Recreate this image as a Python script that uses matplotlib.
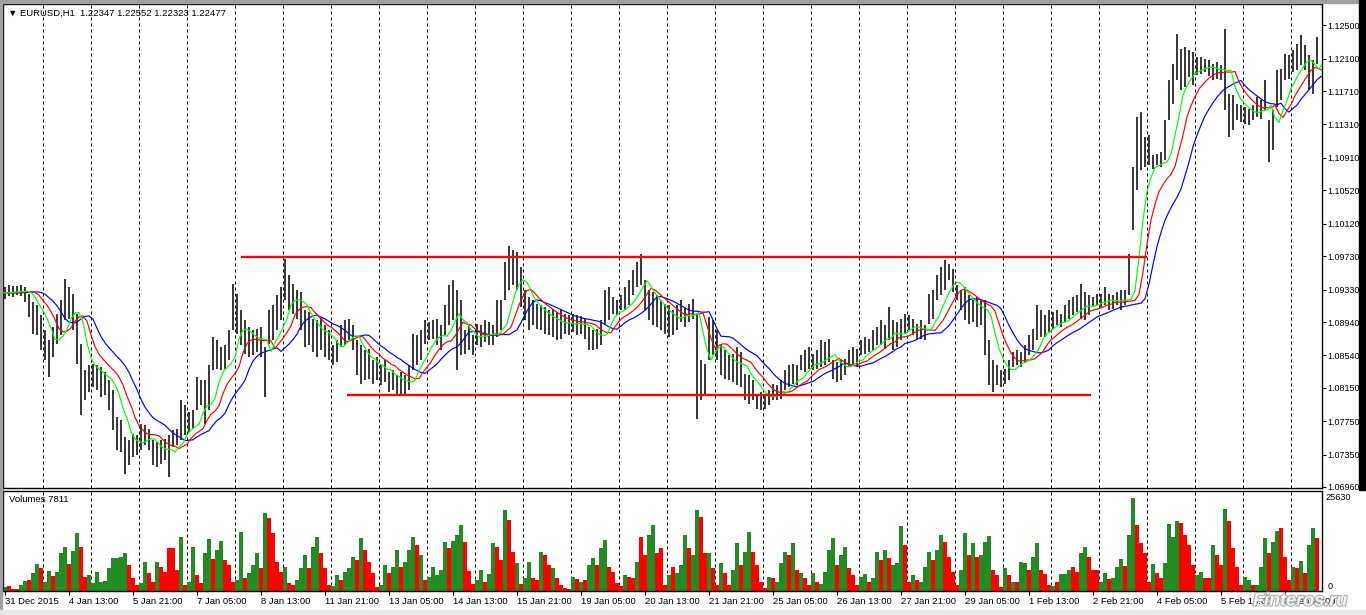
"""
EURUSD H1 chart with Alligator lines, support/resistance levels and volumes,
redrawn in the look of a MetaTrader 4 window.
"""

import matplotlib
matplotlib.use("Agg")
import matplotlib.pyplot as plt
import matplotlib.patheffects as pe
import matplotlib.transforms as mtransforms
import numpy as np
import pandas as pd

W, H = 1366, 615
FONT = ["Liberation Sans", "DejaVu Sans"]

HEADER = "\u25BC EURUSD,H1  1.22347 1.22552 1.22323 1.22477"
VOLUME_HEADER = "Volumes 7811"
VOLUME_MAX = 25630

# one entry per bar (left to right)
HIGH = [
    1.0936, 1.0938, 1.0937, 1.0937, 1.0938, 1.0936, 1.0928, 1.0918, 1.0914, 1.0902,
    1.0884, 1.0872, 1.0888, 1.0904, 1.0920, 1.0946, 1.0936, 1.0928, 1.0904, 1.0868,
    1.0836, 1.0842, 1.0844, 1.0842, 1.0840, 1.0834, 1.0824, 1.0812, 1.0780, 1.0776,
    1.0756, 1.0752, 1.0760, 1.0758, 1.0772, 1.0770, 1.0766, 1.0752, 1.0750, 1.0752,
    1.0754, 1.0758, 1.0764, 1.0766, 1.0800, 1.0794, 1.0786, 1.0788, 1.0828, 1.0824,
    1.0824, 1.0842, 1.0876, 1.0872, 1.0864, 1.0866, 1.0884, 1.0940, 1.0928, 1.0908,
    1.0896, 1.0888, 1.0884, 1.0886, 1.0888, 1.0864, 1.0908, 1.0914, 1.0926, 1.0936,
    1.0970, 1.0950, 1.0940, 1.0932, 1.0930, 1.0908, 1.0906, 1.0898, 1.0896, 1.0900,
    1.0890, 1.0884, 1.0866, 1.0872, 1.0890, 1.0896, 1.0898, 1.0890, 1.0872, 1.0866,
    1.0860, 1.0862, 1.0848, 1.0852, 1.0842, 1.0848, 1.0834, 1.0836, 1.0830, 1.0834,
    1.0830, 1.0842, 1.0880, 1.0878, 1.0884, 1.0896, 1.0894, 1.0896, 1.0898, 1.0890,
    1.0914, 1.0938, 1.0944, 1.0932, 1.0920, 1.0884, 1.0890, 1.0878, 1.0892, 1.0890,
    1.0896, 1.0894, 1.0890, 1.0920, 1.0920, 1.0966, 1.0985, 1.0980, 1.0978, 1.0960,
    1.0932, 1.0924, 1.0920, 1.0916, 1.0914, 1.0912, 1.0908, 1.0910, 1.0906, 1.0908,
    1.0904, 1.0902, 1.0904, 1.0902, 1.0901, 1.0898, 1.0888, 1.0884, 1.0886, 1.0896,
    1.0932, 1.0936, 1.0924, 1.0920, 1.0926, 1.0936, 1.0944, 1.0956, 1.0966, 1.0976,
    1.0944, 1.0932, 1.0930, 1.0926, 1.0920, 1.0916, 1.0914, 1.0908, 1.0914, 1.0920,
    1.0912, 1.0916, 1.0922, 1.0902, 1.0848, 1.0844, 1.0900, 1.0896, 1.0884, 1.0866,
    1.0860, 1.0854, 1.0856, 1.0864, 1.0858, 1.0832, 1.0830, 1.0824, 1.0808, 1.0810,
    1.0808, 1.0812, 1.0820, 1.0818, 1.0824, 1.0836, 1.0842, 1.0844, 1.0842, 1.0854,
    1.0860, 1.0864, 1.0856, 1.0860, 1.0872, 1.0870, 1.0874, 1.0848, 1.0846, 1.0848,
    1.0850, 1.0860, 1.0864, 1.0862, 1.0872, 1.0876, 1.0874, 1.0884, 1.0888, 1.0896,
    1.0890, 1.0912, 1.0896, 1.0894, 1.0898, 1.0904, 1.0902, 1.0898, 1.0892, 1.0896,
    1.0890, 1.0928, 1.0932, 1.0950, 1.0960, 1.0968, 1.0964, 1.0958, 1.0938, 1.0932,
    1.0936, 1.0926, 1.0920, 1.0924, 1.0920, 1.0920, 1.0872, 1.0848, 1.0842, 1.0836,
    1.0838, 1.0848, 1.0858, 1.0860, 1.0858, 1.0866, 1.0878, 1.0886, 1.0914, 1.0908,
    1.0902, 1.0908, 1.0906, 1.0908, 1.0904, 1.0914, 1.0920, 1.0924, 1.0926, 1.0940,
    1.0930, 1.0926, 1.0924, 1.0928, 1.0927, 1.0936, 1.0928, 1.0926, 1.0930, 1.0932,
    1.0932, 1.0976, 1.1080, 1.1140, 1.1146, 1.1116, 1.1118, 1.1094, 1.1096, 1.1098,
    1.1136, 1.1184, 1.1204, 1.1240, 1.1222, 1.1224, 1.1220, 1.1218, 1.1212, 1.1212,
    1.1210, 1.1208, 1.1204, 1.1206, 1.1202, 1.1246, 1.1168, 1.1166, 1.1156, 1.1154,
    1.1152, 1.1150, 1.1154, 1.1164, 1.1160, 1.1184, 1.1136, 1.1148, 1.1196, 1.1198,
    1.1216, 1.1214, 1.1220, 1.1228, 1.1238, 1.1226, 1.1214, 1.1208, 1.1236,
]

LOW = [
    1.0922, 1.0925, 1.0924, 1.0926, 1.0925, 1.0918, 1.0900, 1.0880, 1.0878, 1.0860,
    1.0848, 1.0828, 1.0852, 1.0868, 1.0878, 1.0896, 1.0898, 1.0884, 1.0844, 1.0782,
    1.0800, 1.0810, 1.0816, 1.0812, 1.0804, 1.0806, 1.0788, 1.0764, 1.0740, 1.0738,
    1.0712, 1.0722, 1.0732, 1.0734, 1.0740, 1.0746, 1.0740, 1.0722, 1.0720, 1.0724,
    1.0728, 1.0708, 1.0744, 1.0746, 1.0752, 1.0758, 1.0762, 1.0766, 1.0788, 1.0794,
    1.0772, 1.0788, 1.0836, 1.0838, 1.0836, 1.0838, 1.0848, 1.0884, 1.0880, 1.0866,
    1.0856, 1.0852, 1.0854, 1.0858, 1.0852, 1.0804, 1.0868, 1.0872, 1.0884, 1.0896,
    1.0920, 1.0908, 1.0904, 1.0898, 1.0884, 1.0864, 1.0866, 1.0858, 1.0852, 1.0860,
    1.0852, 1.0848, 1.0842, 1.0846, 1.0864, 1.0866, 1.0872, 1.0860, 1.0830, 1.0820,
    1.0824, 1.0826, 1.0820, 1.0824, 1.0818, 1.0822, 1.0810, 1.0812, 1.0808, 1.0808,
    1.0807, 1.0812, 1.0836, 1.0842, 1.0848, 1.0868, 1.0872, 1.0874, 1.0866, 1.0860,
    1.0878, 1.0890, 1.0896, 1.0836, 1.0854, 1.0856, 1.0860, 1.0854, 1.0866, 1.0864,
    1.0870, 1.0866, 1.0866, 1.0876, 1.0884, 1.0920, 1.0932, 1.0938, 1.0932, 1.0912,
    1.0896, 1.0884, 1.0890, 1.0886, 1.0884, 1.0880, 1.0878, 1.0876, 1.0872, 1.0874,
    1.0880, 1.0878, 1.0882, 1.0878, 1.0880, 1.0874, 1.0860, 1.0860, 1.0862, 1.0866,
    1.0892, 1.0896, 1.0904, 1.0902, 1.0908, 1.0908, 1.0914, 1.0926, 1.0936, 1.0938,
    1.0908, 1.0896, 1.0890, 1.0888, 1.0884, 1.0880, 1.0876, 1.0878, 1.0884, 1.0894,
    1.0888, 1.0894, 1.0898, 1.0778, 1.0800, 1.0808, 1.0848, 1.0854, 1.0848, 1.0830,
    1.0826, 1.0824, 1.0822, 1.0818, 1.0816, 1.0800, 1.0796, 1.0800, 1.0790, 1.0788,
    1.0790, 1.0794, 1.0800, 1.0800, 1.0802, 1.0812, 1.0816, 1.0820, 1.0818, 1.0836,
    1.0834, 1.0838, 1.0836, 1.0838, 1.0840, 1.0842, 1.0846, 1.0826, 1.0822, 1.0824,
    1.0830, 1.0840, 1.0842, 1.0840, 1.0854, 1.0856, 1.0858, 1.0860, 1.0866, 1.0866,
    1.0862, 1.0872, 1.0860, 1.0864, 1.0872, 1.0880, 1.0884, 1.0878, 1.0872, 1.0874,
    1.0872, 1.0892, 1.0898, 1.0920, 1.0926, 1.0932, 1.0944, 1.0930, 1.0920, 1.0908,
    1.0896, 1.0892, 1.0894, 1.0888, 1.0890, 1.0854, 1.0818, 1.0810, 1.0818, 1.0816,
    1.0820, 1.0824, 1.0840, 1.0842, 1.0840, 1.0846, 1.0854, 1.0860, 1.0872, 1.0876,
    1.0876, 1.0882, 1.0886, 1.0890, 1.0888, 1.0894, 1.0898, 1.0902, 1.0906, 1.0898,
    1.0896, 1.0902, 1.0912, 1.0914, 1.0912, 1.0914, 1.0908, 1.0910, 1.0914, 1.0908,
    1.0914, 1.0926, 1.1004, 1.1052, 1.1076, 1.1080, 1.1082, 1.1078, 1.1082, 1.1080,
    1.1088, 1.1136, 1.1156, 1.1184, 1.1172, 1.1176, 1.1188, 1.1178, 1.1190, 1.1192,
    1.1194, 1.1189, 1.1184, 1.1186, 1.1184, 1.1148, 1.1116, 1.1124, 1.1136, 1.1134,
    1.1132, 1.1130, 1.1136, 1.1140, 1.1138, 1.1148, 1.1086, 1.1100, 1.1152, 1.1160,
    1.1184, 1.1186, 1.1194, 1.1196, 1.1202, 1.1196, 1.1172, 1.1168, 1.1204,
]

# volumes in thousands of ticks
VOLUME_K = [
    1.1, 1.4, 0.5, 0.5, 1.6, 2.7, 3.0, 4.9, 7.4, 6.3,
    2.5, 5.5, 4.1, 5.2, 10.4, 12.1, 7.4, 11.0, 15.9, 12.1,
    3.8, 4.4, 2.2, 5.2, 2.5, 2.7, 6.3, 9.0, 9.0, 9.3,
    10.4, 7.1, 3.6, 1.6, 2.2, 7.9, 4.9, 2.5, 7.9, 6.6,
    5.2, 11.8, 11.8, 5.8, 14.8, 1.6, 2.5, 12.1, 4.4, 2.2,
    10.4, 14.2, 8.8, 11.2, 13.7, 8.5, 7.1, 2.5, 3.0, 16.2,
    3.6, 4.9, 7.1, 10.4, 6.3, 21.4, 20.0, 15.9, 7.9, 5.2,
    6.6, 2.2, 1.6, 3.0, 6.3, 9.9, 6.3, 12.1, 14.8, 10.4,
    6.3, 1.6, 1.4, 4.4, 3.0, 5.2, 6.3, 9.3, 8.5, 14.5,
    11.2, 7.9, 4.9, 1.1, 1.6, 7.1, 4.9, 6.6, 11.2, 6.6,
    7.9, 11.2, 14.8, 12.6, 9.9, 3.0, 3.8, 6.6, 4.4, 5.8,
    13.4, 11.8, 13.7, 15.3, 18.1, 13.4, 5.5, 1.9, 3.0, 5.8,
    2.5, 4.7, 13.2, 12.1, 8.5, 22.2, 19.5, 10.7, 7.7, 1.9,
    3.6, 7.9, 3.6, 3.0, 10.7, 9.9, 7.1, 6.3, 3.6, 1.6,
    0.8, 0.5, 3.8, 3.3, 2.5, 3.0, 7.1, 9.0, 7.1, 11.8,
    14.0, 6.6, 5.2, 2.2, 1.4, 4.4, 3.8, 3.6, 7.9, 14.8,
    9.9, 15.3, 18.1, 10.4, 11.8, 1.6, 4.4, 6.6, 4.9, 7.1,
    15.3, 11.8, 9.9, 22.2, 20.3, 10.4, 10.4, 6.3, 1.6, 7.7,
    4.9, 1.6, 5.8, 13.2, 7.1, 10.7, 16.2, 10.7, 7.1, 2.5,
    0.8, 3.8, 3.6, 2.5, 7.7, 10.7, 9.9, 13.2, 5.8, 4.9,
    3.6, 1.6, 4.9, 2.5, 1.9, 5.2, 11.2, 14.5, 7.1, 9.9,
    12.1, 6.3, 4.4, 1.6, 3.8, 4.7, 2.5, 3.6, 10.7, 8.5,
    11.2, 9.0, 7.1, 7.7, 17.8, 12.6, 2.5, 4.4, 3.0, 2.5,
    6.6, 10.7, 8.5, 11.2, 15.3, 13.4, 9.3, 5.2, 1.6, 5.8,
    15.9, 9.9, 13.2, 9.3, 9.9, 13.4, 15.1, 5.8, 4.4, 1.1,
    6.3, 4.4, 2.5, 2.5, 7.9, 7.7, 5.8, 9.3, 13.2, 5.8,
    4.7, 1.6, 1.4, 2.5, 4.7, 4.7, 5.8, 6.6, 5.2, 10.4,
    12.1, 9.3, 5.8, 5.8, 2.5, 4.9, 3.3, 3.6, 6.6, 8.8,
    6.9, 15.3, 25.6, 18.1, 13.2, 10.4, 2.5, 7.4, 4.9, 3.6,
    7.7, 18.4, 14.8, 19.2, 18.6, 15.3, 12.6, 7.1, 4.4, 5.2,
    3.6, 3.6, 12.6, 9.9, 7.1, 22.5, 19.2, 11.8, 6.6, 1.6,
    3.8, 3.0, 1.6, 1.6, 6.6, 14.5, 10.4, 13.4, 16.4, 17.3,
    9.3, 3.0, 6.6, 6.3, 8.2, 4.9, 12.6, 17.3, 14.5,
]

# G = bar closed up (green volume), R = closed down (red volume)
VOLUME_DIR = (
    "GRRRGGRGGR" "GGRGGGRGGR" "RGGGGGGGGG" "GRRRGGRRGR" "RRRRGRGGRR"
    "GGRGGRRRGG" "RGGGRGRRRR" "GRRGGGRGGR" "RRGGRGGGRG" "RRRRGGRGGR"
    "GGGRGRGGGG" "GRGGGRRRGG" "RGGRRGRRGR" "GGRRGRRGRR" "RRGRGRGGRG"
    "GRRRRGRRGR" "RGGRRRGRGG" "GRGGRRGRRG" "RRGGRGGRRR" "RGRGGGRGRG"
    "RRGRGGGGRG" "GRRRGGRGGR" "GRGGGRRGRG" "GGRGGRRRRG" "GRGRGGGRRR"
    "GRGRGGRGGR" "RRGRGGGRRG" "GRRRGGRGGG" "RGGRRRRGRR" "GGGGRRRRGG"
    "RRGRRGRRRR" "GGRGGGRGGR" "RRGRGRGGR"
)

TIME_LABELS = [
    "31 Dec 2015", "4 Jan 13:00", "5 Jan 21:00", "7 Jan 05:00", "8 Jan 13:00",
    "11 Jan 21:00", "13 Jan 05:00", "14 Jan 13:00", "15 Jan 21:00", "19 Jan 05:00",
    "20 Jan 13:00", "21 Jan 21:00", "25 Jan 05:00", "26 Jan 13:00", "27 Jan 21:00",
    "29 Jan 05:00", "1 Feb 13:00", "2 Feb 21:00", "4 Feb 05:00", "5 Feb 13:00",
    "8 Feb 21:00",
]
TIME_LABEL_EVERY = 16  # bars between time labels

PRICE_TICKS = [
    1.12500, 1.12100, 1.11710, 1.11310, 1.10910, 1.10520, 1.10120, 1.09730,
    1.09330, 1.08940, 1.08540, 1.08150, 1.07750, 1.07350, 1.06960,
]

# hand-drawn horizontal levels: price, first bar, last bar
LEVEL_PRICE = [1.09716, 1.08068]
LEVEL_FROM = [59.0, 85.5]
LEVEL_TO = [285.5, 271.5]

# Alligator on median price: colour, smoothing factor, forward shift (bars)
ALLIGATOR = [
    ("#0000FF", 0.148, 4.0),   # jaw
    ("#FF0000", 0.234, 2.5),   # teeth
    ("#00FF00", 0.360, 1.5),   # lips
]

high = np.array(HIGH)
low = np.array(LOW)
n = len(high)
idx = np.arange(n)
median = pd.Series((high + low) / 2.0)
volume = np.array(VOLUME_K) * 1000.0
vol_colors = ["#228B22" if c == "G" else "#FF0000" for c in VOLUME_DIR[:n]]

fig = plt.figure(figsize=(W / 100, H / 100), dpi=100)
fig.patch.set_facecolor("white")

ax = fig.add_axes([3 / W, 1 - 488 / H, 1319 / W, 484 / H])
axv = fig.add_axes([3 / W, 1 - 591 / H, 1319 / W, 100 / H])

grid_x = np.arange(9.5, 329, 12)
for a in (ax, axv):
    a.set_xlim(-0.5, 329.25)
    a.set_facecolor("white")
    for x in grid_x:
        a.axvline(x, color="black", lw=0.72, dashes=(3, 3), zorder=1)
    for s in a.spines.values():
        s.set_color("black")
        s.set_linewidth(1.0)

# price panel
ax.vlines(idx, low, high, color="black", lw=1.1, zorder=3)
for color, alpha, shift in ALLIGATOR:
    ma = median.ewm(alpha=alpha, adjust=False).mean().values
    ax.plot(np.r_[-1.0, idx + shift], np.r_[ma[0], ma], color=color, lw=0.85, zorder=4)
ax.hlines(LEVEL_PRICE, LEVEL_FROM, LEVEL_TO, color="#FF0000", lw=1.7, zorder=5)

ax.set_ylim(1.06948, 1.12756)
ax.set_xticks([])
ax.yaxis.tick_right()
ax.set_yticks(PRICE_TICKS)
ax.set_yticklabels([f"{v:.5f}" for v in PRICE_TICKS], family=FONT)
ax.tick_params(axis="y", length=3, width=0.8, pad=1.0, labelsize=6.4, direction="out")

# volume panel
axv.bar(idx, volume, width=1.0, color=vol_colors, linewidth=0, zorder=2)
axv.set_ylim(0, 27400)
axv.set_yticks([])
axv.set_xticks(np.arange(0, n, TIME_LABEL_EVERY)[:len(TIME_LABELS)])
axv.set_xticklabels(TIME_LABELS, ha="left", family=FONT)
axv.tick_params(axis="x", length=3, width=0.8, pad=1.5, labelsize=6.8, direction="out")

trans = mtransforms.blended_transform_factory(axv.transAxes, axv.transData)
axv.text(1.003, VOLUME_MAX, str(VOLUME_MAX), transform=trans, va="center",
         ha="left", fontsize=6.6, family=FONT)
axv.text(1.004, 0, "0", transform=trans, va="bottom", ha="left",
         fontsize=6.6, family=FONT)

fig.text(8 / W, 1 - 13 / H, HEADER, va="center", ha="left", fontsize=6.8, family=FONT)
fig.text(9 / W, 1 - 500 / H, VOLUME_HEADER, va="center", ha="left", fontsize=6.8, family=FONT)

# window chrome: grey top/left edges, grey strip at the bottom, dark strip at the right
fig.patches.append(plt.Rectangle((0, 1 - 3 / H), 1, 3 / H, transform=fig.transFigure,
                                 color="#A0A0A0", zorder=0))
fig.patches.append(plt.Rectangle((0, 0), 2 / W, 1, transform=fig.transFigure,
                                 color="#A0A0A0", zorder=0))
fig.patches.append(plt.Rectangle((0, 0), 1, 5 / H, transform=fig.transFigure,
                                 color="#E8E8E8", zorder=0))
fig.patches.append(plt.Rectangle((1359 / W, 1 - 490 / H), 7 / W, 490 / H,
                                 transform=fig.transFigure, color="black", zorder=0))

# site watermark, drawn over the last time labels as in the screenshot
fig.text(1300 / W, 1 - 601 / H, "Finteros.ru", ha="center", va="center",
         fontsize=13, style="italic", weight="bold", color="white", family=FONT,
         path_effects=[pe.withStroke(linewidth=1.5, foreground="#A0A0A0")], alpha=0.85)

fig.savefig("out.png", dpi=100)
plt.close(fig)
